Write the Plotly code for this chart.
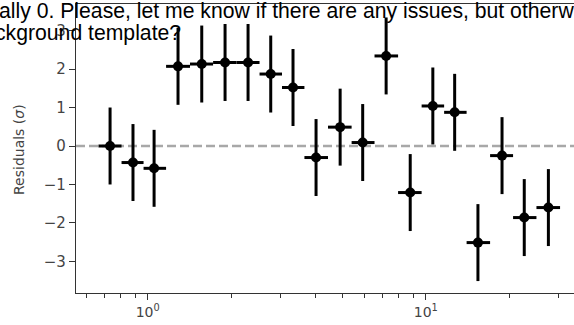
import plotly.graph_objects as go

# Data
x_centers = [0.732, 0.885, 1.054, 1.285, 1.564, 1.897, 2.295, 2.769, 3.33, 4.03,
             4.92, 5.93, 7.20, 8.79, 10.6, 12.7, 15.4, 18.8, 22.6, 27.6]
bin_edges = [0.665, 0.805, 0.966, 1.164, 1.419, 1.718, 2.085, 2.524, 3.04, 3.66,
             4.45, 5.41, 6.54, 7.95, 9.66, 11.64, 14.02, 17.03, 20.6, 25.0, 30.4]
residuals = [0.0, -0.43, -0.58, 2.07, 2.13, 2.17, 2.17, 1.87, 1.52, -0.30,
             0.49, 0.09, 2.34, -1.21, 1.04, 0.875, -2.51, -0.25, -1.86, -1.60]
res_err = [1.0] * len(residuals)
y_ticks = [-3, -2, -1, 0, 1, 2, 3]
x_major = [1, 10]
x_major_text = ["10<sup>0</sup>", "10<sup>1</sup>"]
x_minor = [0.6, 0.7, 0.8, 0.9, 2, 3, 4, 5, 6, 7, 8, 9, 20, 30]
overlay_lines = ["ally 0. Please, let me know if there are any issues, but otherwise",
                 "ckground template?"]

W, H = 574, 325
L, R, T, B = 76, 0, 4, 32
pw, ph = W - L - R, H - T - B

err_plus = [bin_edges[i + 1] - x_centers[i] for i in range(len(x_centers))]
err_minus = [x_centers[i] - bin_edges[i] for i in range(len(x_centers))]

fig = go.Figure()
fig.add_trace(go.Scatter(
    x=x_centers, y=residuals, mode="markers",
    marker=dict(color="black", size=10, symbol="circle"),
    error_y=dict(type="data", array=res_err, color="black", thickness=3, width=0),
    error_x=dict(type="data", array=err_plus, arrayminus=err_minus, color="black",
                 thickness=3, width=0),
    showlegend=False, cliponaxis=False,
))

fig.add_shape(type="line", xref="paper", yref="y", x0=0, x1=1, y0=0, y1=0,
              line=dict(color="#a8a8a8", width=2.5, dash="9px,4px"), layer="below")


def px_to_paper_x(px):
    return (px - L) / pw


def py_to_paper_y(py):
    return 1 - (py - T) / ph


fig.add_annotation(text="Residuals (<i>σ</i>)", textangle=-90, xref="paper", yref="paper",
                   x=px_to_paper_x(19), y=py_to_paper_y(150), showarrow=False,
                   xanchor="center", yanchor="middle",
                   font=dict(family="DejaVu Sans", size=14, color="#444444"))

fig.add_annotation(text=overlay_lines[0], xref="paper", yref="paper",
                   x=px_to_paper_x(-3), y=py_to_paper_y(11), showarrow=False,
                   xanchor="left", yanchor="middle",
                   font=dict(family="Liberation Sans", size=21.2, color="black"))
fig.add_annotation(text=overlay_lines[1], xref="paper", yref="paper",
                   x=px_to_paper_x(-7), y=py_to_paper_y(33), showarrow=False,
                   xanchor="left", yanchor="middle",
                   font=dict(family="Liberation Sans", size=21.2, color="black"))

fig.update_xaxes(type="log", range=[-0.258, 1.533],
                 tickmode="array", tickvals=x_major, ticktext=x_major_text,
                 ticks="outside", ticklen=6, tickwidth=1.2, tickcolor="#333333",
                 minor=dict(tickmode="array", tickvals=x_minor, ticks="outside",
                            ticklen=3.5, tickwidth=1, tickcolor="#333333", showgrid=False),
                 showline=True, linecolor="#333333", linewidth=1.3, mirror=True,
                 showgrid=False, zeroline=False,
                 tickfont=dict(family="DejaVu Sans", size=14, color="#444444"))
fig.update_yaxes(range=[-3.82, 3.69], tickmode="array", tickvals=y_ticks,
                 ticks="outside", ticklen=6, tickwidth=1.2, tickcolor="#333333",
                 showline=True, linecolor="#333333", linewidth=1.3,
                 showgrid=False, zeroline=False,
                 tickfont=dict(family="DejaVu Sans", size=15, color="#444444"))

fig.update_layout(width=W, height=H, margin=dict(l=L, r=R, t=T, b=B),
                  plot_bgcolor="white", paper_bgcolor="white")

fig.write_html("out.html", config={"displayModeBar": False},
               post_script="document.body.style.margin='0';document.body.style.overflow='hidden';")
